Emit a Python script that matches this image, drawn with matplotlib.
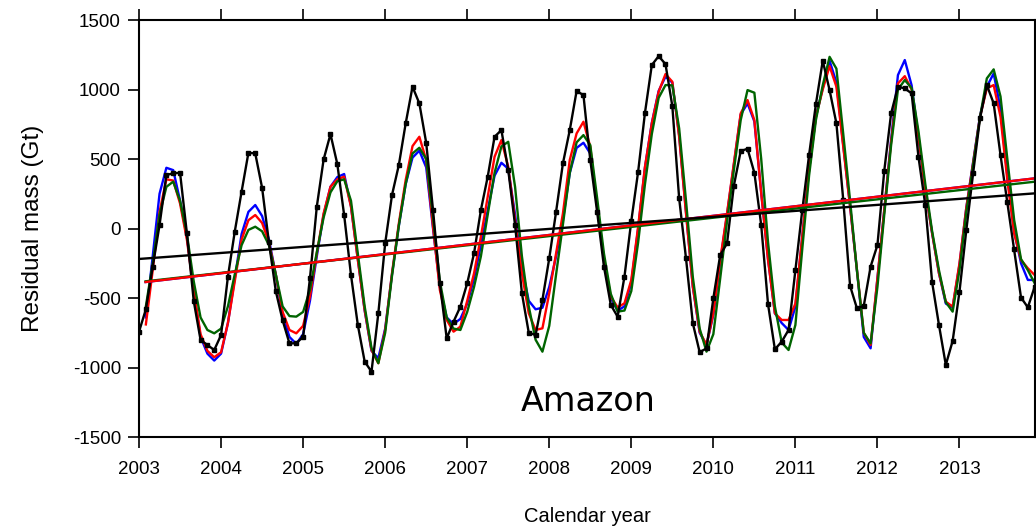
import matplotlib
matplotlib.use("Agg")
import matplotlib.pyplot as plt
import numpy as np

plt.rcParams['axes.unicode_minus'] = False

# monthly samples, starting Jan 2003
start_year = 2003

black = [-742, -581, -275, 25, 385, 397, 401, -35, -521, -802, -838, -874,
         -766, -346, -23, 265, 545, 540, 293, -100, -450, -660, -826, -826,
         -778, -358, 157, 497, 679, 464, 97, -334, -694, -957, -1030, -610,
         -107, 241, 457, 756, 1020, 900, 617, 133, -394, -790, -670, -562,
         -394, -178, 133, 373, 660, 708, 421, 25, -466, -749, -766, -514,
         -214, 121, 469, 708, 989, 960, 493, 121, -274, -550, -634, -346,
         55, 409, 833, 1176, 1240, 1183, 881, 217, -214, -682, -890, -862,
         -502, -191, -107, 308, 557, 574, 401, 25, -545, -869, -814, -730,
         -300, 130, 528, 895, 1207, 996, 756, 205, -413, -574, -557, -274,
         -119, 416, 828, 1020, 1008, 972, 516, 169, -387, -694, -981, -809,
         -454, -11, 400, 792, 1032, 900, 528, 188, -150, -497, -567, -418]

# the model series start one month later (Feb 2003)
blue = [-640, -200, 250, 437, 420, 200, -60, -450, -780, -900, -950,
        -900, -680, -360, -40, 120, 169, 90, -80, -330, -620, -780, -830,
        -760, -520, -200, 100, 300, 370, 392, 160, -220, -590, -880, -933,
        -720, -330, 20, 320, 510, 560, 440, 0, -420, -640, -687, -650,
        -540, -360, -120, 130, 380, 473, 430, 100, -280, -520, -581, -570,
        -420, -200, 60, 400, 580, 617, 540, 170, -220, -500, -591, -560,
        -390, 0, 440, 760, 990, 1092, 1050, 670, 120, -420, -750, -838,
        -620, -240, 100, 460, 820, 900, 770, 260, -220, -610, -680, -730,
        -562, -60, 421, 804, 1010, 1207, 1050, 600, 160, -300, -780, -862,
        -358, 133, 640, 1104, 1212, 1030, 660, 277, -35, -322, -540, -567,
        -260, 150, 480, 810, 1020, 1116, 860, 380, -20, -250, -370, -370]

red = [-690, -300, 120, 354, 345, 180, -80, -450, -760, -880, -926,
       -890, -680, -380, -80, 60, 97, 40, -100, -330, -600, -730, -754,
       -700, -490, -178, 109, 300, 354, 373, 157, -226, -586, -874, -969,
       -730, -322, 37, 349, 593, 660, 493, 13, -442, -658, -742, -706,
       -520, -322, -59, 229, 516, 636, 444, 61, -322, -610, -730, -718,
       -466, -178, 109, 493, 684, 768, 588, 157, -226, -490, -567, -538,
       -370, 13, 444, 756, 984, 1111, 1056, 660, 109, -418, -742, -838,
       -610, -226, 109, 469, 828, 924, 780, 253, -226, -610, -658, -658,
       -540, -59, 421, 804, 1000, 1168, 1020, 588, 157, -298, -750, -838,
       -358, 133, 624, 1044, 1096, 1000, 660, 277, -35, -322, -526, -562,
       -250, 150, 473, 804, 1008, 1032, 804, 349, -35, -226, -286, -335]

green = [-560, -250, 100, 300, 337, 200, -40, -380, -640, -730, -754,
         -720, -560, -330, -120, -10, 13, -20, -120, -330, -560, -630, -634,
         -600, -440, -170, 80, 260, 340, 354, 200, -180, -560, -860, -969,
         -750, -340, 20, 320, 540, 581, 500, 80, -380, -640, -720, -730,
         -600, -420, -200, 100, 400, 590, 624, 300, -200, -560, -800, -886,
         -700, -330, 30, 400, 620, 672, 600, 220, -180, -470, -598, -590,
         -450, -100, 320, 680, 940, 1032, 1030, 720, 200, -350, -720, -886,
         -760, -360, 50, 420, 780, 996, 977, 500, -100, -560, -820, -874,
         -694, -150, 380, 780, 1030, 1235, 1150, 680, 200, -300, -750, -826,
         -420, 100, 600, 1000, 1068, 1010, 700, 320, -20, -300, -530, -598,
         -300, 120, 460, 800, 1080, 1145, 950, 500, 60, -220, -300, -394]

# linear trends (start, end)
trend_x_black = [2003.0, 2013.92]
trend_black = [-219, 253]
trend_x_model = [2003.08, 2013.92]
trend_blue = [-385, 361]
trend_red = [-385, 361]
trend_green = [-380, 337]

t_black = start_year + np.arange(len(black)) / 12.0
t_model = start_year + (np.arange(len(red)) + 1) / 12.0

fig = plt.figure(figsize=(10.36, 5.31), dpi=100)
ax = fig.add_axes([0.1342, 0.177, 0.8648, 0.7853])

lw = 1.7
ax.plot(t_model, blue, color='#0000ff', lw=lw)
ax.plot(t_model, red, color='#ff0000', lw=lw)
ax.plot(t_model, green, color='#006400', lw=lw)
ax.plot(t_black, black, color='black', lw=lw, marker='s', markersize=3)

ax.plot(trend_x_model, trend_blue, color='#0000ff', lw=lw)
ax.plot(trend_x_model, trend_green, color='#006400', lw=lw)
ax.plot(trend_x_model, trend_red, color='#ff0000', lw=lw)
ax.plot(trend_x_black, trend_black, color='black', lw=lw)

ax.set_xlim(2003, 2013.92)
ax.set_ylim(-1500, 1500)
ax.set_xticks(np.arange(2003, 2014))
ax.set_yticks(np.arange(-1500, 1501, 500))
ax.tick_params(axis='x', which='both', direction='out', top=True, bottom=True,
               length=8, width=1.2, labelsize=13.5, pad=9)
ax.tick_params(axis='y', direction='out', left=True, right=False,
               length=8, width=1.2, labelsize=13.5, pad=5)
for lab in ax.get_xticklabels() + ax.get_yticklabels():
    lab.set_fontfamily('Liberation Sans')
for sp in ax.spines.values():
    sp.set_linewidth(1.5)

ax.set_xlabel('Calendar year', fontsize=14.5, family='Liberation Sans', labelpad=21)
ax.set_ylabel('Residual mass (Gt)', fontsize=17.5, family='Liberation Sans', labelpad=21)
ax.text(0.501, 0.086, 'Amazon', transform=ax.transAxes, fontsize=24,
        ha='center', va='center', family='DejaVu Sans')

fig.savefig('out.png', dpi=100)
